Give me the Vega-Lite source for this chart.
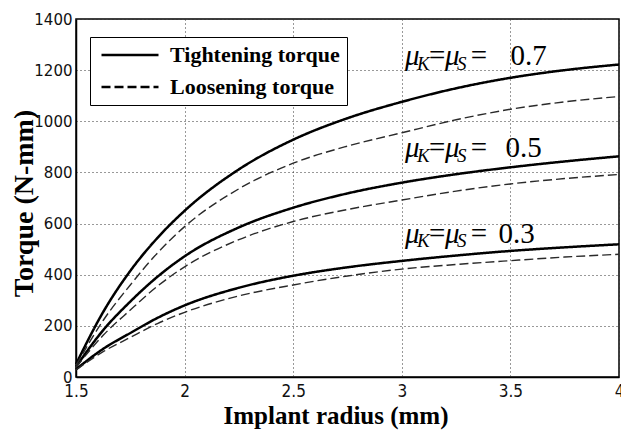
{
  "$schema": "https://vega.github.io/schema/vega-lite/v6.json",
  "width": 543,
  "height": 358,
  "autosize": {"type": "none"},
  "padding": {"left": 76, "top": 19, "right": 2, "bottom": 56},
  "background": "white",
  "config": {
    "view": {"stroke": "black", "strokeWidth": 1.5},
    "axis": {
      "domainColor": "black",
      "domainWidth": 1.5,
      "ticks": false,
      "grid": true,
      "gridColor": "#333",
      "gridDash": [1, 3],
      "gridWidth": 1,
      "gridOpacity": 1,
      "labelColor": "#111",
      "titleColor": "black",
      "titleFont": "Liberation Serif",
      "titleFontWeight": "bold"
    },
    "legend": {
      "orient": "none",
      "legendX": 14,
      "legendY": 18,
      "strokeColor": "black",
      "fillColor": "white",
      "padding": 7,
      "rowPadding": 10,
      "symbolOffset": 22,
      "labelOffset": 29,
      "labelLimit": 400,
      "labelFont": "Liberation Serif",
      "labelFontWeight": "bold",
      "labelFontSize": 22,
      "labelColor": "black",
      "symbolType": "M-3,0H3",
      "symbolSize": 361,
      "symbolStrokeWidth": 2.5,
      "symbolStrokeColor": "black"
    }
  },
  "datasets": {
    "curves": [
      {"r": 1.5, "T": 50, "mu": "0.7", "type": "Tightening torque"},
      {"r": 1.625, "T": 254, "mu": "0.7", "type": "Tightening torque"},
      {"r": 1.75, "T": 415, "mu": "0.7", "type": "Tightening torque"},
      {"r": 1.875, "T": 544, "mu": "0.7", "type": "Tightening torque"},
      {"r": 2, "T": 650, "mu": "0.7", "type": "Tightening torque"},
      {"r": 2.25, "T": 812, "mu": "0.7", "type": "Tightening torque"},
      {"r": 2.5, "T": 928, "mu": "0.7", "type": "Tightening torque"},
      {"r": 2.75, "T": 1012, "mu": "0.7", "type": "Tightening torque"},
      {"r": 3, "T": 1076, "mu": "0.7", "type": "Tightening torque"},
      {"r": 3.25, "T": 1129, "mu": "0.7", "type": "Tightening torque"},
      {"r": 3.5, "T": 1170, "mu": "0.7", "type": "Tightening torque"},
      {"r": 3.75, "T": 1200, "mu": "0.7", "type": "Tightening torque"},
      {"r": 4, "T": 1222, "mu": "0.7", "type": "Tightening torque"},
      {"r": 1.5, "T": 45, "mu": "0.7", "type": "Loosening torque"},
      {"r": 1.625, "T": 221, "mu": "0.7", "type": "Loosening torque"},
      {"r": 1.75, "T": 360, "mu": "0.7", "type": "Loosening torque"},
      {"r": 1.875, "T": 485, "mu": "0.7", "type": "Loosening torque"},
      {"r": 2, "T": 588, "mu": "0.7", "type": "Loosening torque"},
      {"r": 2.25, "T": 736, "mu": "0.7", "type": "Loosening torque"},
      {"r": 2.5, "T": 836, "mu": "0.7", "type": "Loosening torque"},
      {"r": 2.75, "T": 903, "mu": "0.7", "type": "Loosening torque"},
      {"r": 3, "T": 955, "mu": "0.7", "type": "Loosening torque"},
      {"r": 3.25, "T": 1006, "mu": "0.7", "type": "Loosening torque"},
      {"r": 3.5, "T": 1047, "mu": "0.7", "type": "Loosening torque"},
      {"r": 3.75, "T": 1076, "mu": "0.7", "type": "Loosening torque"},
      {"r": 4, "T": 1097, "mu": "0.7", "type": "Loosening torque"},
      {"r": 1.5, "T": 40, "mu": "0.5", "type": "Tightening torque"},
      {"r": 1.625, "T": 183, "mu": "0.5", "type": "Tightening torque"},
      {"r": 1.75, "T": 295, "mu": "0.5", "type": "Tightening torque"},
      {"r": 1.875, "T": 392, "mu": "0.5", "type": "Tightening torque"},
      {"r": 2, "T": 472, "mu": "0.5", "type": "Tightening torque"},
      {"r": 2.25, "T": 585, "mu": "0.5", "type": "Tightening torque"},
      {"r": 2.5, "T": 662, "mu": "0.5", "type": "Tightening torque"},
      {"r": 2.75, "T": 718, "mu": "0.5", "type": "Tightening torque"},
      {"r": 3, "T": 760, "mu": "0.5", "type": "Tightening torque"},
      {"r": 3.25, "T": 793, "mu": "0.5", "type": "Tightening torque"},
      {"r": 3.5, "T": 820, "mu": "0.5", "type": "Tightening torque"},
      {"r": 3.75, "T": 843, "mu": "0.5", "type": "Tightening torque"},
      {"r": 4, "T": 863, "mu": "0.5", "type": "Tightening torque"},
      {"r": 1.5, "T": 38, "mu": "0.5", "type": "Loosening torque"},
      {"r": 1.625, "T": 163, "mu": "0.5", "type": "Loosening torque"},
      {"r": 1.75, "T": 262, "mu": "0.5", "type": "Loosening torque"},
      {"r": 1.875, "T": 355, "mu": "0.5", "type": "Loosening torque"},
      {"r": 2, "T": 431, "mu": "0.5", "type": "Loosening torque"},
      {"r": 2.25, "T": 537, "mu": "0.5", "type": "Loosening torque"},
      {"r": 2.5, "T": 608, "mu": "0.5", "type": "Loosening torque"},
      {"r": 2.75, "T": 655, "mu": "0.5", "type": "Loosening torque"},
      {"r": 3, "T": 692, "mu": "0.5", "type": "Loosening torque"},
      {"r": 3.25, "T": 727, "mu": "0.5", "type": "Loosening torque"},
      {"r": 3.5, "T": 755, "mu": "0.5", "type": "Loosening torque"},
      {"r": 3.75, "T": 776, "mu": "0.5", "type": "Loosening torque"},
      {"r": 4, "T": 792, "mu": "0.5", "type": "Loosening torque"},
      {"r": 1.5, "T": 30, "mu": "0.3", "type": "Tightening torque"},
      {"r": 1.625, "T": 110, "mu": "0.3", "type": "Tightening torque"},
      {"r": 1.75, "T": 172, "mu": "0.3", "type": "Tightening torque"},
      {"r": 1.875, "T": 231, "mu": "0.3", "type": "Tightening torque"},
      {"r": 2, "T": 280, "mu": "0.3", "type": "Tightening torque"},
      {"r": 2.25, "T": 349, "mu": "0.3", "type": "Tightening torque"},
      {"r": 2.5, "T": 396, "mu": "0.3", "type": "Tightening torque"},
      {"r": 2.75, "T": 429, "mu": "0.3", "type": "Tightening torque"},
      {"r": 3, "T": 454, "mu": "0.3", "type": "Tightening torque"},
      {"r": 3.25, "T": 475, "mu": "0.3", "type": "Tightening torque"},
      {"r": 3.5, "T": 493, "mu": "0.3", "type": "Tightening torque"},
      {"r": 3.75, "T": 507, "mu": "0.3", "type": "Tightening torque"},
      {"r": 4, "T": 519, "mu": "0.3", "type": "Tightening torque"},
      {"r": 1.5, "T": 28, "mu": "0.3", "type": "Loosening torque"},
      {"r": 1.625, "T": 99, "mu": "0.3", "type": "Loosening torque"},
      {"r": 1.75, "T": 155, "mu": "0.3", "type": "Loosening torque"},
      {"r": 1.875, "T": 209, "mu": "0.3", "type": "Loosening torque"},
      {"r": 2, "T": 253, "mu": "0.3", "type": "Loosening torque"},
      {"r": 2.25, "T": 317, "mu": "0.3", "type": "Loosening torque"},
      {"r": 2.5, "T": 360, "mu": "0.3", "type": "Loosening torque"},
      {"r": 2.75, "T": 395, "mu": "0.3", "type": "Loosening torque"},
      {"r": 3, "T": 422, "mu": "0.3", "type": "Loosening torque"},
      {"r": 3.25, "T": 440, "mu": "0.3", "type": "Loosening torque"},
      {"r": 3.5, "T": 455, "mu": "0.3", "type": "Loosening torque"},
      {"r": 3.75, "T": 469, "mu": "0.3", "type": "Loosening torque"},
      {"r": 4, "T": 480, "mu": "0.3", "type": "Loosening torque"}
    ],
    "notes": [
      {"r": 3.015, "T": 1220, "txt": "μ", "kind": "it"},
      {"r": 3.070, "T": 1201, "txt": "K", "kind": "sub"},
      {"r": 3.125, "T": 1220, "txt": "=", "kind": "rm"},
      {"r": 3.199, "T": 1220, "txt": "μ", "kind": "it"},
      {"r": 3.254, "T": 1201, "txt": "S", "kind": "sub"},
      {"r": 3.318, "T": 1220, "txt": "=", "kind": "rm"},
      {"r": 3.500, "T": 1220, "txt": "0.7", "kind": "rm"},
      {"r": 3.015, "T": 862, "txt": "μ", "kind": "it"},
      {"r": 3.070, "T": 842, "txt": "K", "kind": "sub"},
      {"r": 3.125, "T": 862, "txt": "=", "kind": "rm"},
      {"r": 3.199, "T": 862, "txt": "μ", "kind": "it"},
      {"r": 3.254, "T": 842, "txt": "S", "kind": "sub"},
      {"r": 3.318, "T": 862, "txt": "=", "kind": "rm"},
      {"r": 3.477, "T": 862, "txt": "0.5", "kind": "rm"},
      {"r": 3.015, "T": 525, "txt": "μ", "kind": "it"},
      {"r": 3.070, "T": 510, "txt": "K", "kind": "sub"},
      {"r": 3.125, "T": 525, "txt": "=", "kind": "rm"},
      {"r": 3.199, "T": 525, "txt": "μ", "kind": "it"},
      {"r": 3.254, "T": 510, "txt": "S", "kind": "sub"},
      {"r": 3.318, "T": 525, "txt": "=", "kind": "rm"},
      {"r": 3.445, "T": 525, "txt": "0.3", "kind": "rm"}
    ]
  },
  "encoding": {
    "x": {
      "field": "r",
      "type": "quantitative",
      "scale": {"domain": [1.5, 4], "nice": false, "zero": false},
      "axis": {
        "title": "Implant radius (mm)",
        "values": [1.5, 2, 2.5, 3, 3.5, 4],
        "format": "~g",
        "labelFont": "Liberation Sans Narrow, DejaVu Sans Condensed, sans-serif",
        "labelFontSize": 17,
        "labelPadding": 6,
        "labelFlush": false,
        "titleFontSize": 25,
        "titleX": 259.5,
        "titleY": 46,
        "titleAnchor": "middle",
        "titleBaseline": "alphabetic"
      }
    },
    "y": {
      "field": "T",
      "type": "quantitative",
      "scale": {"domain": [0, 1400], "nice": false},
      "axis": {
        "title": "Torque (N-mm)",
        "values": [0, 200, 400, 600, 800, 1000, 1200, 1400],
        "format": "d",
        "labelFont": "DejaVu Sans",
        "labelFontSize": 15,
        "labelPadding": 4,
        "labelFlush": false,
        "titleFontSize": 28,
        "titleAngle": -90,
        "titleX": -44,
        "titleY": 184,
        "titleAnchor": "middle",
        "titleBaseline": "alphabetic"
      }
    }
  },
  "layer": [
    {
      "data": {"name": "curves"},
      "transform": [{"filter": "datum.type === 'Tightening torque'"}],
      "mark": {"type": "line", "interpolate": "monotone", "color": "black", "strokeWidth": 2.5},
      "encoding": {
        "detail": {"field": "mu"},
        "strokeDash": {
          "field": "type",
          "type": "nominal",
          "scale": {"domain": ["Tightening torque", "Loosening torque"], "range": [[1, 0], [9, 4]]},
          "legend": {"title": null}
        }
      }
    },
    {
      "data": {"name": "curves"},
      "transform": [{"filter": "datum.type === 'Loosening torque'"}],
      "mark": {"type": "line", "interpolate": "monotone", "color": "#2a2a2a", "strokeWidth": 1.4},
      "encoding": {
        "detail": {"field": "mu"},
        "strokeDash": {
          "field": "type",
          "type": "nominal",
          "scale": {"domain": ["Tightening torque", "Loosening torque"], "range": [[1, 0], [9, 4]]},
          "legend": {"title": null}
        }
      }
    },
    {
      "data": {"name": "notes"},
      "transform": [{"filter": "datum.kind === 'it'"}],
      "mark": {"type": "text", "align": "left", "baseline": "alphabetic", "font": "Liberation Serif", "fontStyle": "italic", "fontSize": 29, "color": "black"},
      "encoding": {"text": {"field": "txt"}}
    },
    {
      "data": {"name": "notes"},
      "transform": [{"filter": "datum.kind === 'sub'"}],
      "mark": {"type": "text", "align": "left", "baseline": "alphabetic", "font": "Liberation Serif", "fontStyle": "italic", "fontSize": 19, "color": "black"},
      "encoding": {"text": {"field": "txt"}}
    },
    {
      "data": {"name": "notes"},
      "transform": [{"filter": "datum.kind === 'rm'"}],
      "mark": {"type": "text", "align": "left", "baseline": "alphabetic", "font": "Liberation Serif", "fontSize": 29, "color": "black"},
      "encoding": {"text": {"field": "txt"}}
    }
  ]
}
